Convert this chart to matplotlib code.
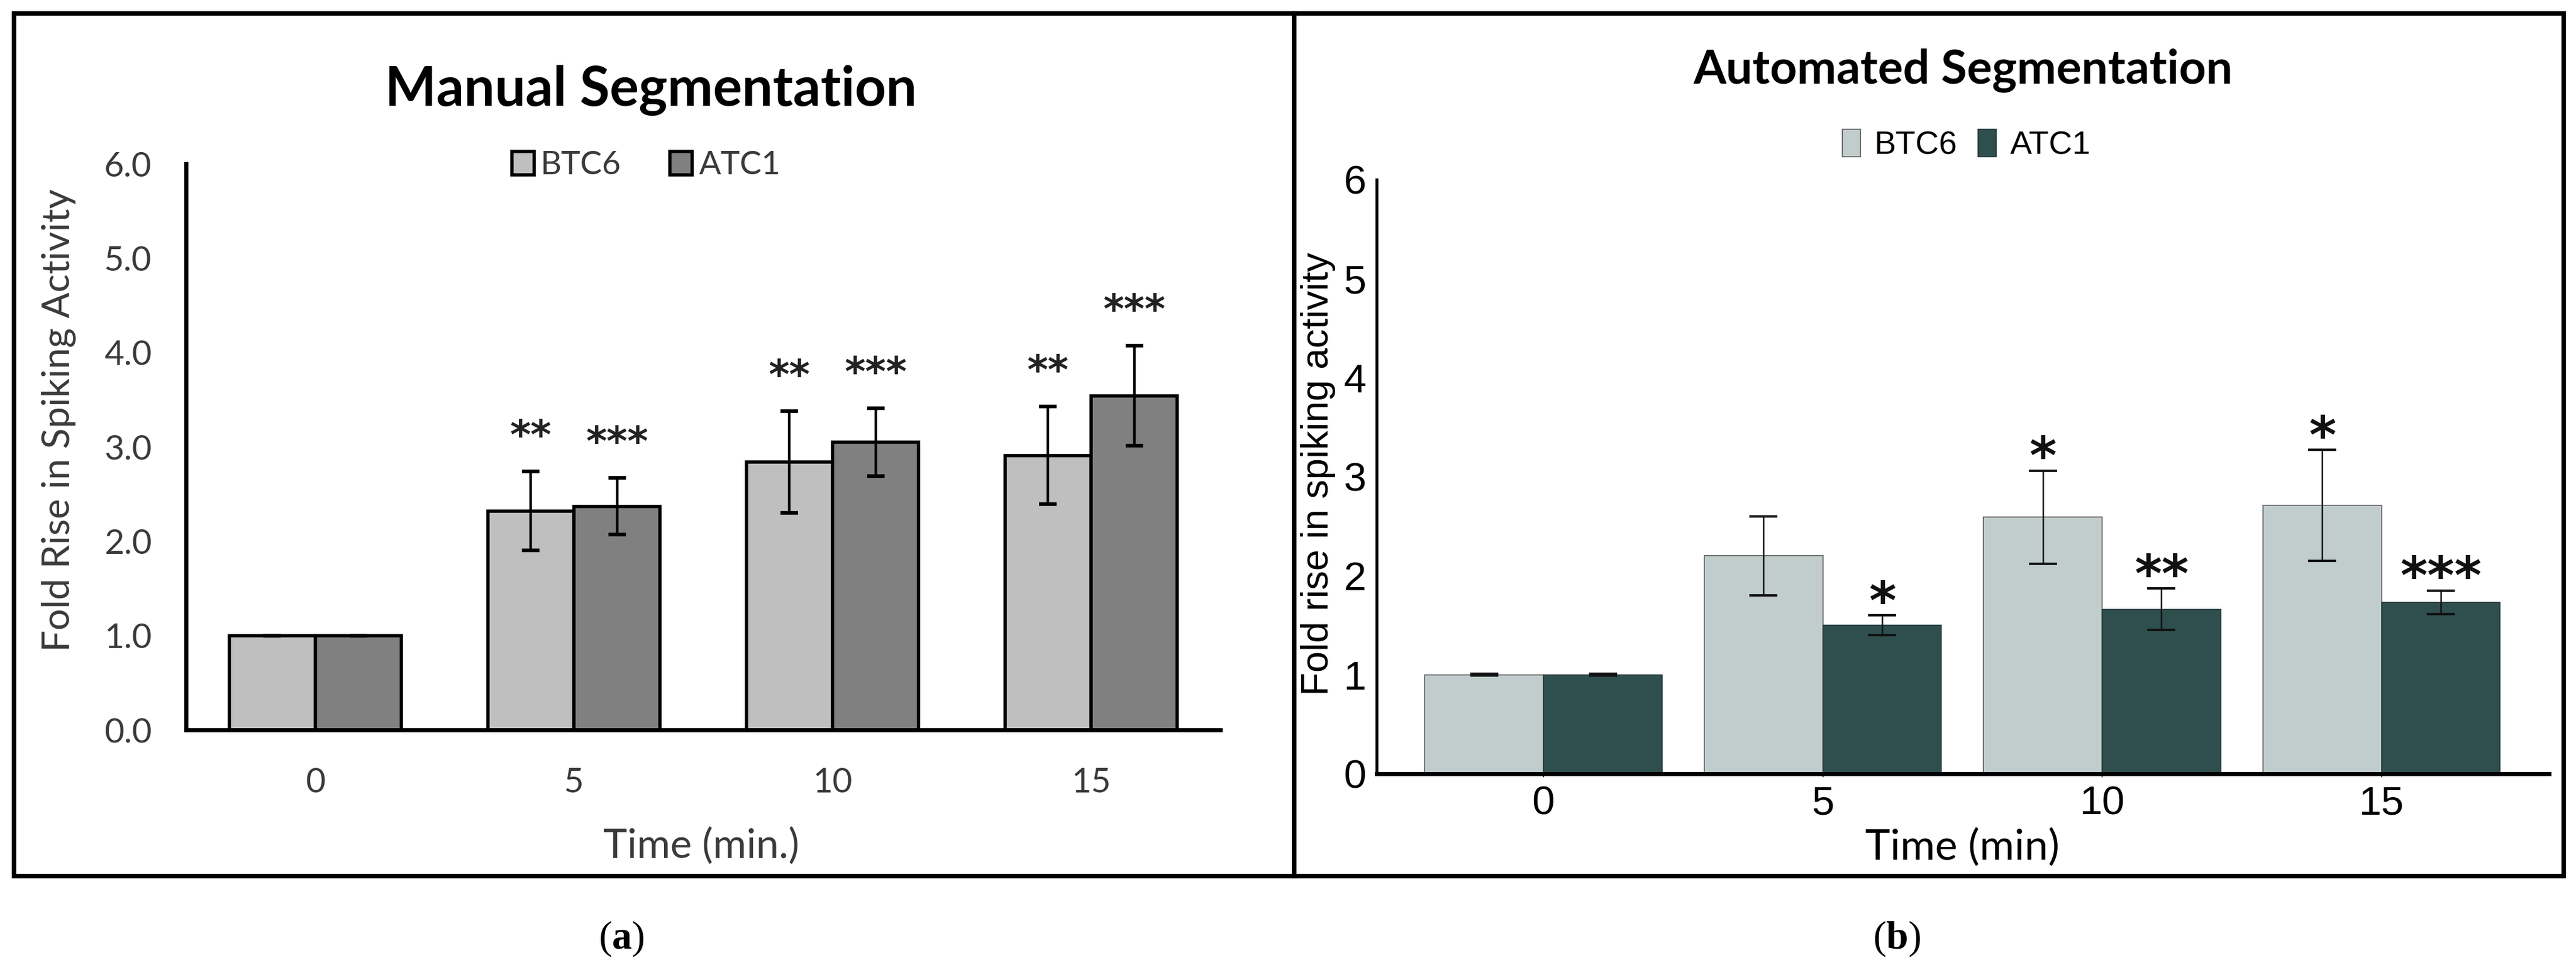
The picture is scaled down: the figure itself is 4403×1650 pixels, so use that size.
import numpy as np
import matplotlib.pyplot as plt
from matplotlib.patches import Rectangle

plt.rcParams['mathtext.fontset'] = 'custom'
plt.rcParams['mathtext.rm'] = 'Liberation Serif'
plt.rcParams['mathtext.bf'] = 'Liberation Serif:bold'

times = ['0', '5', '10', '15']

# (a) manual segmentation
man_btc6 = [1.0, 2.32, 2.84, 2.91]
man_btc6_err = [0.0, 0.42, 0.54, 0.52]
man_atc1 = [1.0, 2.37, 3.05, 3.54]
man_atc1_err = [0.0, 0.30, 0.36, 0.53]
man_btc6_sig = ['', '**', '**', '**']
man_atc1_sig = ['', '***', '***', '***']

# (b) automated segmentation
auto_btc6 = [1.0, 2.20, 2.59, 2.71]
auto_btc6_err = [0.01, 0.40, 0.47, 0.56]
auto_atc1 = [1.0, 1.50, 1.66, 1.73]
auto_atc1_err = [0.01, 0.10, 0.21, 0.12]
auto_btc6_sig = ['', '', '*', '*']
auto_atc1_sig = ['', '*', '**', '***']

W, H = 4403, 1650
fig = plt.figure(figsize=(W / 100, H / 100), dpi=100)


def fx(px):
    return px / W


def fy(py):
    return 1 - py / H


# panel frames
for x0, x1 in [(24, 2212), (2212, 4382)]:
    fig.add_artist(Rectangle((fx(x0), fy(1498)), fx(x1) - fx(x0), fy(23) - fy(1498),
                             transform=fig.transFigure, fill=False, ec='black', lw=5.5))

x = np.arange(len(times))

# ---------- left panel ----------
axL = fig.add_axes([fx(318), fy(1248), fx(2086) - fx(318), fy(280) - fy(1248)])
w = 0.333
grey = '#3a3a3a'
b1 = axL.bar(x - w / 2, man_btc6, w, color='#BFBFBF', edgecolor='black', lw=4, label='BTC6', zorder=2)
b2 = axL.bar(x + w / 2, man_atc1, w, color='#808080', edgecolor='black', lw=4, label='ATC1', zorder=2)
for xs, vals, errs, sigs in [(x - w / 2, man_btc6, man_btc6_err, man_btc6_sig),
                             (x + w / 2, man_atc1, man_atc1_err, man_atc1_sig)]:
    axL.errorbar(xs, vals, yerr=errs, fmt='none', ecolor='black', elinewidth=3.2,
                 capsize=11, capthick=4.5, zorder=3)
    for xi, v, e, s in zip(xs, vals, errs, sigs):
        if s:
            axL.annotate(s, (xi, v + e), xytext=(0, 28), textcoords='offset points',
                         ha='center', va='baseline', fontsize=49, fontweight='bold',
                         family='DejaVu Sans', color='#222222')

axL.set_xlim(-0.5, 3.5)
axL.set_ylim(0, 6)
axL.set_yticks(np.arange(0, 7, 1))
axL.set_yticklabels(['{:.1f}'.format(t) for t in np.arange(0, 7, 1)])
axL.set_xticks(x, times)
axL.tick_params(axis='both', length=0, labelsize=42, labelcolor=grey)
axL.tick_params(axis='x', pad=46)
axL.tick_params(axis='y', pad=42)
for lab in axL.get_xticklabels() + axL.get_yticklabels():
    lab.set_family('Lato')
for sp in ['top', 'right']:
    axL.spines[sp].set_visible(False)
for sp in ['left', 'bottom']:
    axL.spines[sp].set_linewidth(5)
    axL.spines[sp].set_color('black')

axL.set_xlabel('Time (min.)', fontsize=50, family='Lato', color=grey)
axL.xaxis.label.set_va('baseline')
axL.xaxis.set_label_coords(0.498, -0.226)
axL.set_ylabel('Fold Rise in Spiking Activity', fontsize=47, family='Lato', color=grey)
axL.yaxis.label.set_va('baseline')
axL.yaxis.set_label_coords(-0.113, 0.5475)

axL.legend(handles=[b1, b2], loc='center', bbox_to_anchor=(0.445, 0.997), ncol=2,
           frameon=False, prop={'family': 'Lato', 'size': 40}, labelcolor=grey,
           handlelength=0.68, handleheight=0.72, handletextpad=0.2, columnspacing=1.5,
           borderpad=0, borderaxespad=0)

fig.text(fx(1112), fy(181), 'Manual Segmentation', ha='center', va='baseline',
         fontsize=67, fontweight='bold', family='Lato')

# ---------- right panel ----------
axR = fig.add_axes([fx(2353), fy(1323), fx(4357) - fx(2353), fy(307) - fy(1323)])
w2 = 0.425
c1 = axR.bar(x - w2 / 2, auto_btc6, w2, color='#C1CDCC', edgecolor='#5a5a5a', lw=1.2, label='BTC6', zorder=2)
c2 = axR.bar(x + w2 / 2, auto_atc1, w2, color='#2F4F4F', edgecolor='#1e3232', lw=1.2, label='ATC1', zorder=2)
for xs, vals, errs, sigs in [(x - w2 / 2, auto_btc6, auto_btc6_err, auto_btc6_sig),
                             (x + w2 / 2, auto_atc1, auto_atc1_err, auto_atc1_sig)]:
    axR.errorbar(xs, vals, yerr=errs, fmt='none', ecolor='#111111', elinewidth=1.8,
                 capsize=17, capthick=3, zorder=3)
    for xi, v, e, s in zip(xs, vals, errs, sigs):
        if s:
            axR.annotate(s, (xi, v + e), xytext=(0, -4), textcoords='offset points',
                         ha='center', va='baseline', fontsize=64, fontweight='bold',
                         family='DejaVu Sans', color='#111111')

axR.set_xlim(-0.597, 3.6)
axR.set_ylim(0, 6)
axR.set_yticks(np.arange(0, 7, 1))
axR.set_xticks(x, times)
axR.tick_params(axis='both', labelsize=50, labelcolor='black')
axR.tick_params(axis='x', length=4, width=1.5, color='#333333', pad=10)
axR.tick_params(axis='y', length=0, pad=13)
for lab in axR.get_xticklabels() + axR.get_yticklabels():
    lab.set_family('Liberation Sans')
for sp in ['top', 'right']:
    axR.spines[sp].set_visible(False)
axR.spines['left'].set_linewidth(3.5)
axR.spines['bottom'].set_linewidth(5)

axR.set_xlabel('Time (min)', fontsize=52, family='Lato', color='black')
axR.xaxis.label.set_va('baseline')
axR.xaxis.set_label_coords(0.4995, -0.1447)
axR.set_ylabel('Fold rise in spiking activity', fontsize=47, family='Liberation Sans', color='black')
axR.yaxis.label.set_va('baseline')
axR.yaxis.set_label_coords(-0.0414, 0.505)

axR.legend(handles=[c1, c2], loc='center', bbox_to_anchor=(0.503, 1.058), ncol=2,
           frameon=False, prop={'family': 'Liberation Sans', 'size': 40},
           handlelength=0.56, handleheight=0.92, handletextpad=0.43, columnspacing=0.63,
           borderpad=0, borderaxespad=0)

fig.text(fx(3355), fy(142), 'Automated Segmentation', ha='center', va='baseline',
         fontsize=58, fontweight='bold', family='Lato')

# panel letters
fig.text(fx(1062), fy(1622), r'($\mathbf{a}$)', ha='center', va='baseline',
         fontsize=49, family='Liberation Serif')
fig.text(fx(3242), fy(1622), r'($\mathbf{b}$)', ha='center', va='baseline',
         fontsize=49, family='Liberation Serif')

fig.savefig('out.png', dpi=100)
